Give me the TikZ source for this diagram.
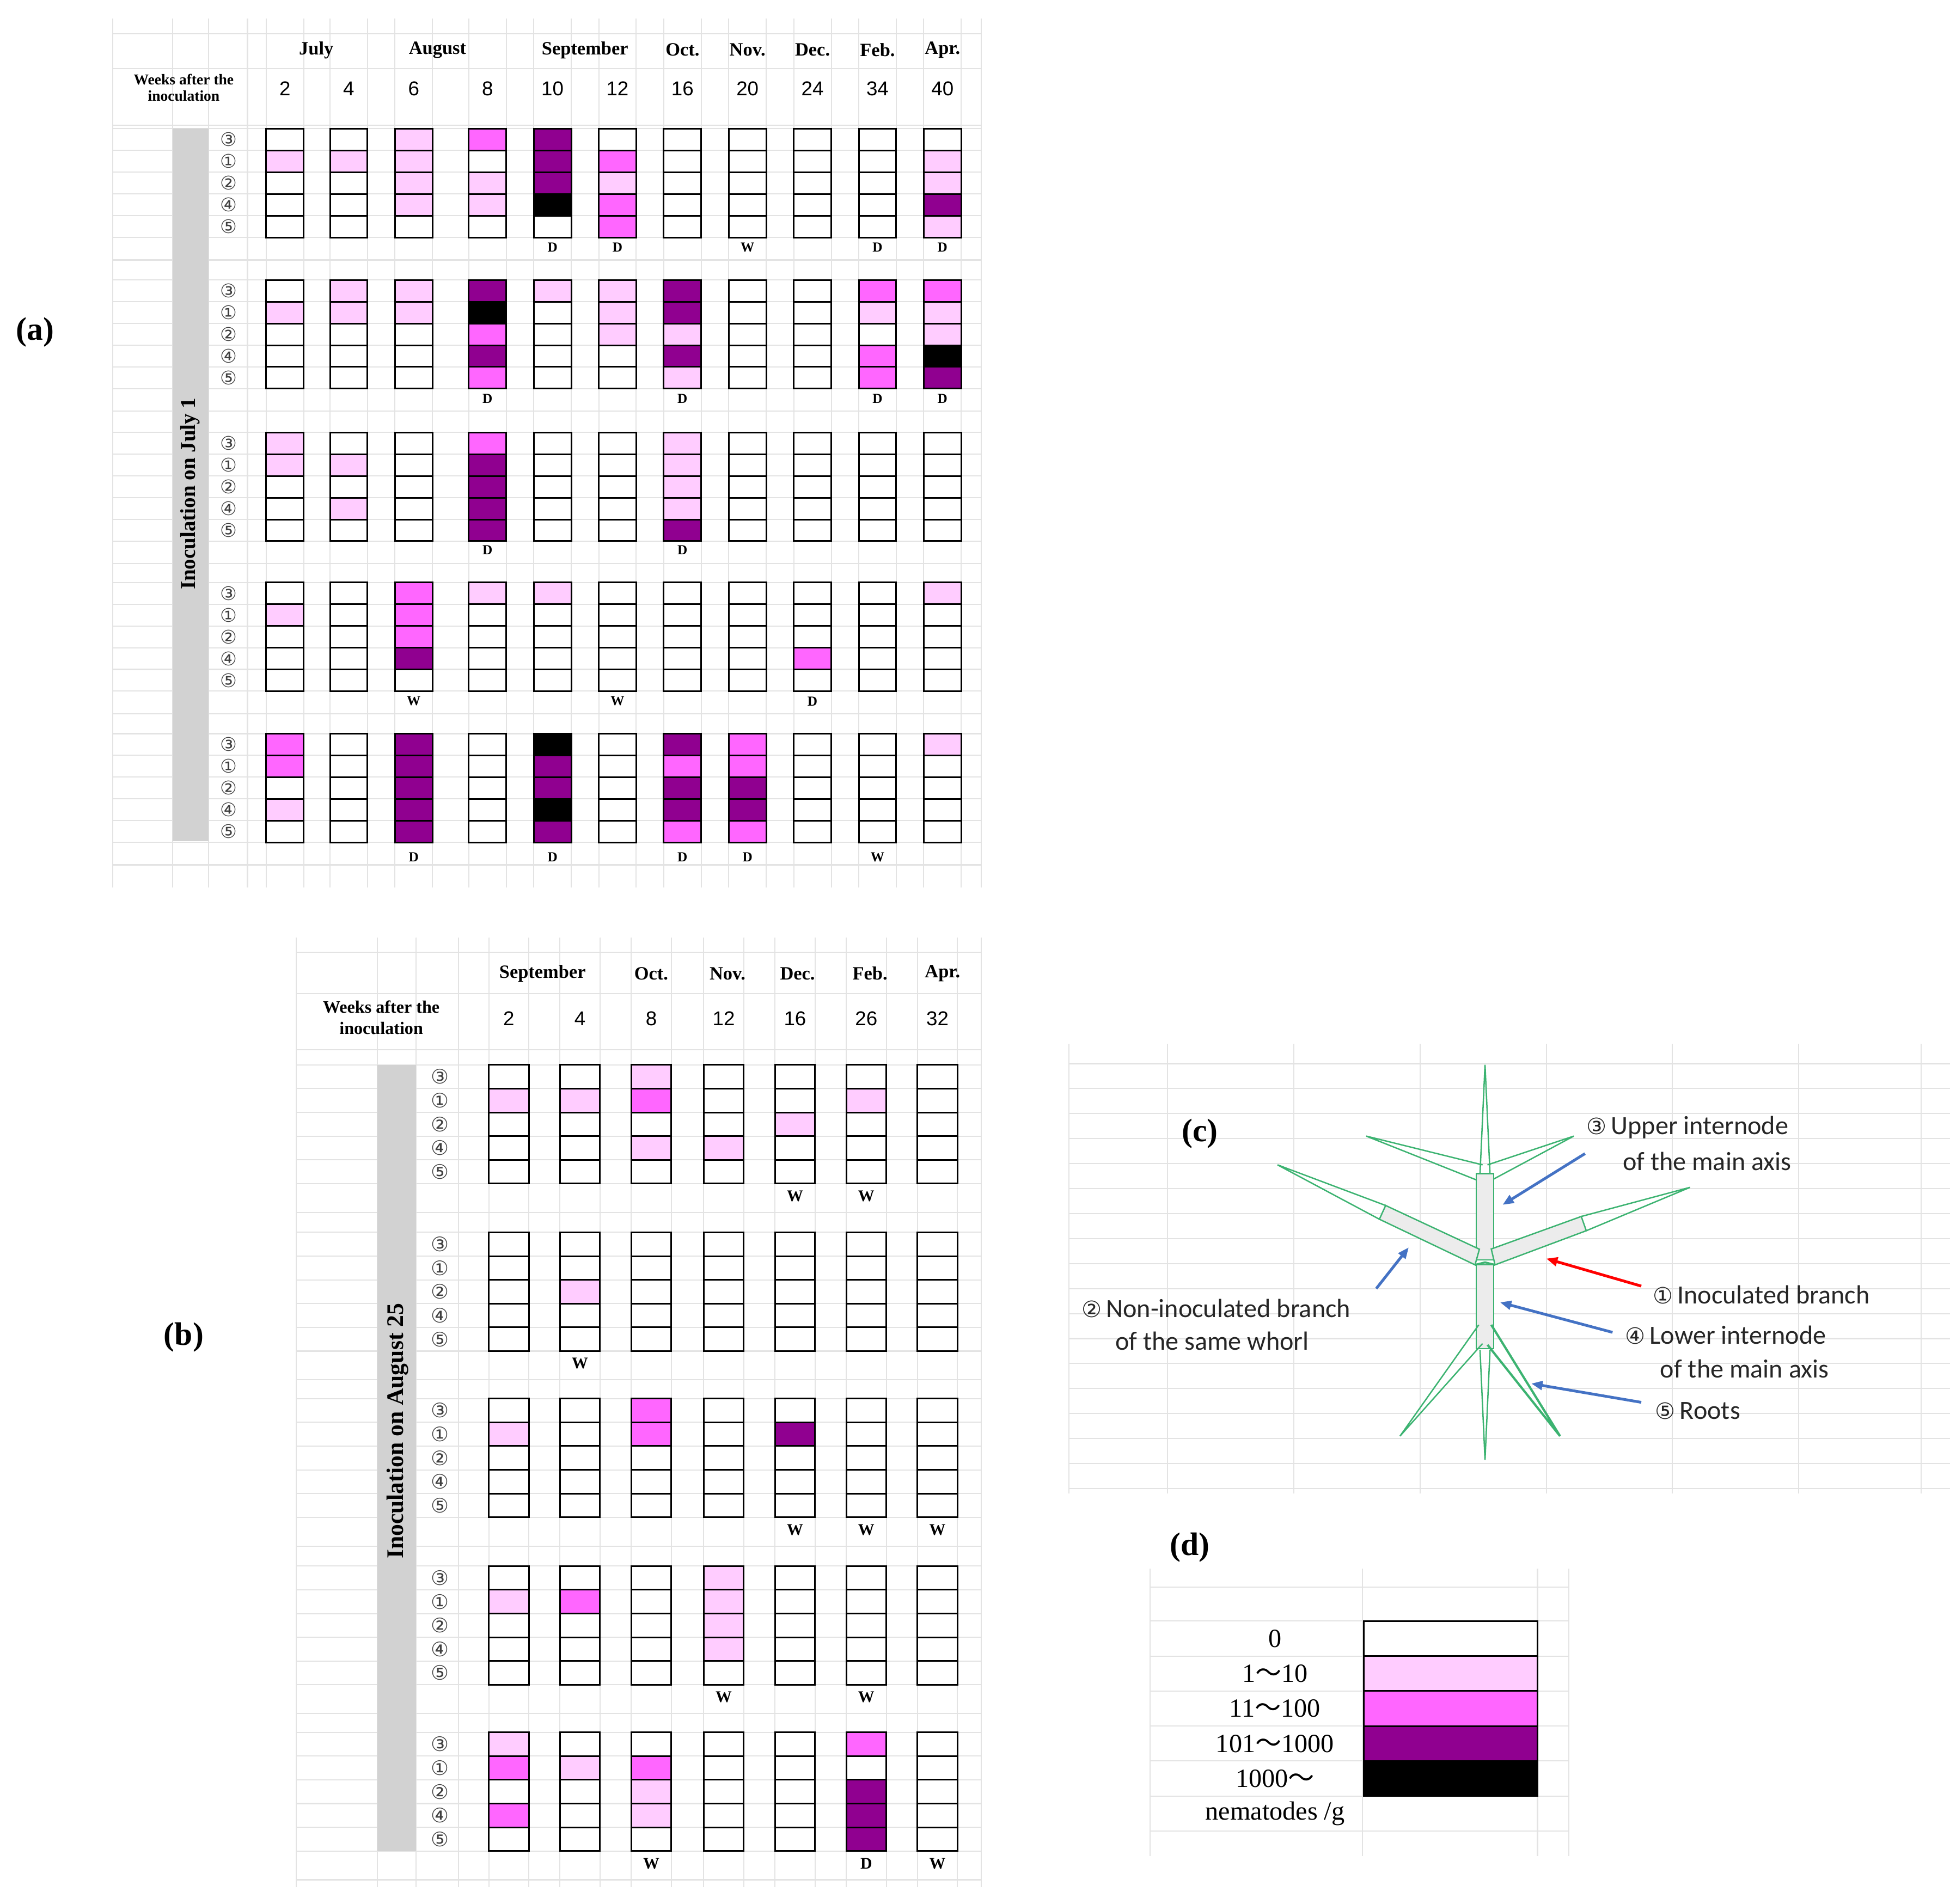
\documentclass[tikz,border=0pt]{standalone}
\usepackage{fontspec}
\setmainfont{Liberation Serif}
\newfontfamily\arl{Liberation Sans}
\newfontfamily\djv{DejaVu Sans}
\newfontfamily\carl{Carlito}
\newfontfamily\cjkf{Noto Sans CJK JP}
\usetikzlibrary{arrows.meta}
\definecolor{lv0}{HTML}{FFFFFF}
\definecolor{lv1}{HTML}{FFCCFF}
\definecolor{lv2}{HTML}{FF66FF}
\definecolor{lv3}{HTML}{900090}
\definecolor{lv4}{HTML}{000000}
\definecolor{plantg}{HTML}{3CB371}
\definecolor{arrb}{HTML}{4472C4}
\tikzset{
 cellbox/.style={draw=black,line width=1.3pt},
 gridl/.style={draw=gray!22,line width=0.9pt},
 mon/.style={font=\bfseries\fontsize{15}{15}\selectfont},
 wk/.style={font=\arl\fontsize{16}{16}\selectfont},
 circ/.style={font=\djv\fontsize{15}{15}\selectfont,text=black!75},
 dw/.style={font=\bfseries\fontsize{11}{11}\selectfont},
 panel/.style={font=\bfseries\fontsize{26}{26}\selectfont},
 lab/.style={font=\carl\fontsize{21}{21}\selectfont,anchor=west,inner sep=0pt,text=black!85},
 leaf/.style={draw=plantg,line width=1.1pt},
 arr/.style={-{Triangle[length=9pt,width=7pt]},line width=2.2pt,draw=arrb},
}
\begin{document}
\begin{tikzpicture}[x=1pt,y=-1pt]
\useasboundingbox (0,0) rectangle (1560,1523);
\fill[white] (0,0) rectangle (1560,1523);
% ---------------- grid (a)
\foreach \yy in {27,55,100} \draw[gridl] (90,\yy) -- (785,\yy);
\foreach \t in {103,224,346,466,587}{
  \foreach \k in {0,...,5} \draw[gridl] (90,{\t+\k*17.4}) -- (785,{\t+\k*17.4});
  \draw[gridl] (90,{\t+105}) -- (785,{\t+105});
}
\foreach \xx in {90,138,167,198,213,243,264,294,316,346,375,405,427,457,479,509,531,561,583,613,635,665,687,717,739,769,785}
  \draw[gridl] (\xx,15) -- (\xx,710);
% ---------------- grid (b)
\foreach \yy in {762,795,840} \draw[gridl] (237,\yy) -- (785,\yy);
\foreach \t in {852,986,1119,1253,1386}{
  \foreach \k in {0,...,5} \draw[gridl] (237,{\t+\k*19}) -- (785,{\t+\k*19});
  \draw[gridl] (237,{\t+118}) -- (785,{\t+118});
}
\foreach \xx in {237,302,333,367,391,423,448,480,505,537,563,595,620,652,677,709,734,766,785}
  \draw[gridl] (\xx,750) -- (\xx,1510);
% ---------------- grid (c)
\foreach \k in {0,...,17} \draw[gridl] (855,{851+\k*20}) -- (1560,{851+\k*20});
\foreach \xx in {855,934,1035,1136,1237,1338,1439,1537} \draw[gridl] (\xx,835) -- (\xx,1195);
% ---------------- grid (d)
\foreach \yy in {1270,1297,1325,1353,1381,1409,1437,1465} \draw[gridl] (920,\yy) -- (1255,\yy);
\foreach \xx in {920,1090,1230,1255} \draw[gridl] (\xx,1255) -- (\xx,1485);

% ================= PANEL (a)
\node[panel] (pa) at (28,266) {(a)};
\node[font=\bfseries\fontsize{12}{13}\selectfont,align=center] (wka) at (147,70) {Weeks after the\\inoculation};
\foreach \m/\xx in {July/253,August/350,September/468,Oct./546,Nov./598,Dec./650,Feb./702,Apr./754}
  \node[mon] (ma\xx) at (\xx,40) {\m};
\foreach \w/\xx in {2/228,4/279,6/331,8/390,10/442,12/494,16/546,20/598,24/650,34/702,40/754}
  \node[wk] (wa\xx) at (\xx,71) {\w};
\fill[gray!35] (138,103) rectangle (167,673);
\node[rotate=90,font=\bfseries\fontsize{17}{17}\selectfont] (inca) at (152,395) {Inoculation on July 1};
\foreach \t [count=\p] in {103,224,346,466,587}{
  \foreach \c [count=\k] in {③,①,②,④,⑤}
    \node[circ] (ca\p\k) at (183,{\t+(\k-0.5)*17.4}) {\c};
}
\newcommand\pcol[5]{%
  \foreach \v [count=\k] in #5
    \draw[cellbox,fill=lv\v] ({#1-#4},{#2+(\k-1)*#3}) rectangle ({#1+#4},{#2+\k*#3});}
% plant 1
\foreach \cx/\vals in {228/{0,1,0,0,0},279/{0,1,0,0,0},331/{1,1,1,1,0},390/{2,0,1,1,0},442/{3,3,3,4,0},494/{0,2,1,2,2},546/{0,0,0,0,0},598/{0,0,0,0,0},650/{0,0,0,0,0},702/{0,0,0,0,0},754/{0,1,1,3,1}}
  {\pcol{\cx}{103}{17.4}{15}{\vals}}
\foreach \cx/\l in {442/D,494/D,598/W,702/D,754/D} \node[dw] (la1\cx) at (\cx,198) {\l};
% plant 2
\foreach \cx/\vals in {228/{0,1,0,0,0},279/{1,1,0,0,0},331/{1,1,0,0,0},390/{3,4,2,3,2},442/{1,0,0,0,0},494/{1,1,1,0,0},546/{3,3,1,3,1},598/{0,0,0,0,0},650/{0,0,0,0,0},702/{2,1,0,2,2},754/{2,1,1,4,3}}
  {\pcol{\cx}{224}{17.4}{15}{\vals}}
\foreach \cx/\l in {390/D,546/D,702/D,754/D} \node[dw] (la2\cx) at (\cx,319) {\l};
% plant 3
\foreach \cx/\vals in {228/{1,1,0,0,0},279/{0,1,0,1,0},331/{0,0,0,0,0},390/{2,3,3,3,3},442/{0,0,0,0,0},494/{0,0,0,0,0},546/{1,1,1,1,3},598/{0,0,0,0,0},650/{0,0,0,0,0},702/{0,0,0,0,0},754/{0,0,0,0,0}}
  {\pcol{\cx}{346}{17.4}{15}{\vals}}
\foreach \cx/\l in {390/D,546/D} \node[dw] (la3\cx) at (\cx,440) {\l};
% plant 4
\foreach \cx/\vals in {228/{0,1,0,0,0},279/{0,0,0,0,0},331/{2,2,2,3,0},390/{1,0,0,0,0},442/{1,0,0,0,0},494/{0,0,0,0,0},546/{0,0,0,0,0},598/{0,0,0,0,0},650/{0,0,0,2,0},702/{0,0,0,0,0},754/{1,0,0,0,0}}
  {\pcol{\cx}{466}{17.4}{15}{\vals}}
\foreach \cx/\l in {331/W,494/W,650/D} \node[dw] (la4\cx) at (\cx,561) {\l};
% plant 5
\foreach \cx/\vals in {228/{2,2,0,1,0},279/{0,0,0,0,0},331/{3,3,3,3,3},390/{0,0,0,0,0},442/{4,3,3,4,3},494/{0,0,0,0,0},546/{3,2,3,3,2},598/{2,2,3,3,2},650/{0,0,0,0,0},702/{0,0,0,0,0},754/{1,0,0,0,0}}
  {\pcol{\cx}{587}{17.4}{15}{\vals}}
\foreach \cx/\l in {331/D,442/D,546/D,598/D,702/W} \node[dw] (la5\cx) at (\cx,686) {\l};

% ================= PANEL (b)
\node[panel] (pb) at (147,1070) {(b)};
\node[font=\bfseries\fontsize{14}{14}\selectfont,align=center] (wkb) at (305,814) {Weeks after the\\[3pt]inoculation};
\foreach \m/\xx in {September/434,Oct./521,Nov./582,Dec./638,Feb./696,Apr./754}
  \node[mon] (mb\xx) at (\xx,779) {\m};
\foreach \w/\xx in {2/407,4/464,8/521,12/579,16/636,26/693,32/750}
  \node[wk] (wb\xx) at (\xx,815) {\w};
\fill[gray!35] (302,852) rectangle (333,1481);
\node[rotate=90,font=\bfseries\fontsize{19}{19}\selectfont] (incb) at (318,1145) {Inoculation on August 25};
\foreach \t [count=\p] in {852,986,1119,1253,1386}{
  \foreach \c [count=\k] in {③,①,②,④,⑤}
    \node[circ,font=\djv\fontsize{16}{16}\selectfont] (cb\p\k) at (352,{\t+(\k-0.5)*19}) {\c};
}
\foreach \cx/\vals in {407/{0,1,0,0,0},464/{0,1,0,0,0},521/{1,2,0,1,0},579/{0,0,0,1,0},636/{0,0,1,0,0},693/{0,1,0,0,0},750/{0,0,0,0,0}}
  {\pcol{\cx}{852}{19}{16}{\vals}}
\foreach \cx/\l in {636/W,693/W} \node[dw,font=\bfseries\fontsize{13}{13}\selectfont] (lb1\cx) at (\cx,957) {\l};
\foreach \cx/\vals in {407/{0,0,0,0,0},464/{0,0,1,0,0},521/{0,0,0,0,0},579/{0,0,0,0,0},636/{0,0,0,0,0},693/{0,0,0,0,0},750/{0,0,0,0,0}}
  {\pcol{\cx}{986}{19}{16}{\vals}}
\foreach \cx/\l in {464/W} \node[dw,font=\bfseries\fontsize{13}{13}\selectfont] (lb2\cx) at (\cx,1091) {\l};
\foreach \cx/\vals in {407/{0,1,0,0,0},464/{0,0,0,0,0},521/{2,2,0,0,0},579/{0,0,0,0,0},636/{0,3,0,0,0},693/{0,0,0,0,0},750/{0,0,0,0,0}}
  {\pcol{\cx}{1119}{19}{16}{\vals}}
\foreach \cx/\l in {636/W,693/W,750/W} \node[dw,font=\bfseries\fontsize{13}{13}\selectfont] (lb3\cx) at (\cx,1224) {\l};
\foreach \cx/\vals in {407/{0,1,0,0,0},464/{0,2,0,0,0},521/{0,0,0,0,0},579/{1,1,1,1,0},636/{0,0,0,0,0},693/{0,0,0,0,0},750/{0,0,0,0,0}}
  {\pcol{\cx}{1253}{19}{16}{\vals}}
\foreach \cx/\l in {579/W,693/W} \node[dw,font=\bfseries\fontsize{13}{13}\selectfont] (lb4\cx) at (\cx,1358) {\l};
\foreach \cx/\vals in {407/{1,2,0,2,0},464/{0,1,0,0,0},521/{0,2,1,1,0},579/{0,0,0,0,0},636/{0,0,0,0,0},693/{2,0,3,3,3},750/{0,0,0,0,0}}
  {\pcol{\cx}{1386}{19}{16}{\vals}}
\foreach \cx/\l in {521/W,693/D,750/W} \node[dw,font=\bfseries\fontsize{13}{13}\selectfont] (lb5\cx) at (\cx,1491) {\l};

% ================= PANEL (c)
\node[panel] (pc) at (960,907) {(c)};
\draw[leaf] (1184,939) -- (1188,852) -- (1192,939);
\draw[leaf] (1186,932) -- (1093,909) -- (1186,946);
\draw[leaf] (1190,932) -- (1259,909) -- (1190,946);
\draw[leaf,fill=gray!15] (1181,939) rectangle (1195,1008);
\draw[leaf,fill=gray!15] (1181,1012) rectangle (1195,1079);
\draw[leaf,fill=gray!15] (1183.5,999.5) -- (1108.5,964.5) -- (1103.5,975.5) -- (1180,1012) -- cycle;
\draw[leaf] (1108.5,964.5) -- (1022,932) -- (1103.5,975.5);
\draw[leaf,fill=gray!15] (1193,999.3) -- (1265,973.3) -- (1269,984.7) -- (1196,1012) -- cycle;
\draw[leaf] (1265,973.3) -- (1352,950) -- (1269,984.7);
\draw[leaf,line width=1.6pt] (1180,1012) -- (1188,1010) -- (1196,1012);
\draw[leaf] (1183,1060) -- (1120,1149) -- (1186,1075);
\draw[leaf] (1184,1080) -- (1188,1168) -- (1192,1080);
\draw[leaf,line width=1.8pt] (1193,1060) -- (1248,1149) -- (1190,1076);
\node[lab] (l3a) at (1269,902) {{\djv\fontsize{18}{18}\selectfont ③}\,Upper internode};
\node[lab] (l3b) at (1298,929) {of the main axis};
\node[lab] (l1) at (1322,1036) {{\djv\fontsize{18}{18}\selectfont ①}\,Inoculated branch};
\node[lab] (l4a) at (1300,1068) {{\djv\fontsize{18}{18}\selectfont ④}\,Lower internode};
\node[lab] (l4b) at (1328,1095) {of the main axis};
\node[lab] (l5) at (1324,1129) {{\djv\fontsize{18}{18}\selectfont ⑤}\,Roots};
\node[lab] (l2a) at (865,1047) {{\djv\fontsize{18}{18}\selectfont ②}\,Non-inoculated branch};
\node[lab] (l2b) at (892,1073) {of the same whorl};
\coordinate (a3s) at (1268,923); \coordinate (a3e) at (1202,964);
\coordinate (a2s) at (1101,1031); \coordinate (a2e) at (1127,998);
\coordinate (a1s) at (1313,1029); \coordinate (a1e) at (1237,1007);
\coordinate (a4s) at (1290,1066); \coordinate (a4e) at (1200,1042);
\coordinate (a5s) at (1313,1122); \coordinate (a5e) at (1225,1107);
\draw[arr] (a3s) -- (a3e);
\draw[arr] (a2s) -- (a2e);
\draw[arr,draw=red] (a1s) -- (a1e);
\draw[arr] (a4s) -- (a4e);
\draw[arr] (a5s) -- (a5e);

% ================= PANEL (d)
\node[panel] (pd) at (952,1238) {(d)};
\foreach \v [count=\k] in {0,1,2,3,4}
  \draw[cellbox,fill=lv\v] (1091,{1297+(\k-1)*28}) rectangle (1230,{1297+\k*28});
\node[font=\fontsize{21}{21}\selectfont] (d0) at (1020,1311) {0};
\node[font=\fontsize{21}{21}\selectfont] (d1) at (1020,1339) {1{\cjkf ～}10};
\node[font=\fontsize{21}{21}\selectfont] (d2) at (1020,1367) {11{\cjkf ～}100};
\node[font=\fontsize{21}{21}\selectfont] (d3) at (1020,1395) {101{\cjkf ～}1000};
\node[font=\fontsize{21}{21}\selectfont] (d4) at (1020,1423) {1000{\cjkf ～}};
\node[font=\fontsize{21}{21}\selectfont] (d5) at (1020,1451) {nematodes /g};
\end{tikzpicture}
\end{document}
